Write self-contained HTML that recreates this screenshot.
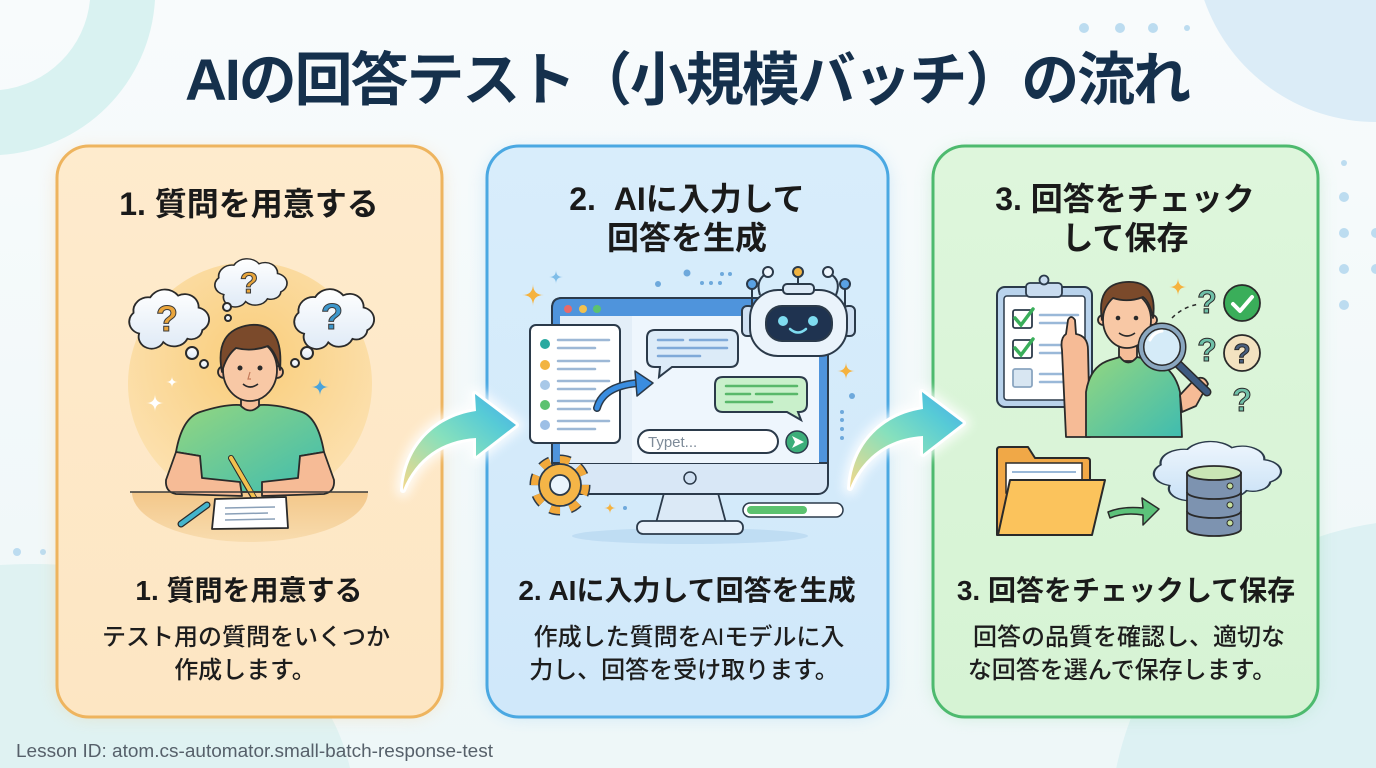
<!DOCTYPE html>
<html><head><meta charset="utf-8">
<style>
html,body{margin:0;padding:0;width:1376px;height:768px;overflow:hidden;background:#f3f8fa;}
svg{display:block;overflow:hidden;}
text{font-family:"Liberation Sans","Noto Sans CJK JP",sans-serif;}
</style></head><body>
<svg width="1376" height="768" viewBox="0 0 1376 768" xmlns="http://www.w3.org/2000/svg">
<defs>
 <linearGradient id="bg" x1="0" y1="0" x2="0" y2="1"><stop offset="0" stop-color="#f8fbfc"/><stop offset="1" stop-color="#eef7f8"/></linearGradient>
 <filter id="blur" x="-20%" y="-20%" width="140%" height="140%"><feGaussianBlur stdDeviation="9"/></filter>
 <filter id="blur2" x="-30%" y="-30%" width="160%" height="160%"><feGaussianBlur stdDeviation="5"/></filter>
 <linearGradient id="c1" x1="0" y1="0" x2="0" y2="1"><stop offset="0" stop-color="#feebcd"/><stop offset="1" stop-color="#fde6c3"/></linearGradient>
 <linearGradient id="c2" x1="0" y1="0" x2="0" y2="1"><stop offset="0" stop-color="#d8edfb"/><stop offset="1" stop-color="#d0e8fa"/></linearGradient>
 <linearGradient id="c3" x1="0" y1="0" x2="0" y2="1"><stop offset="0" stop-color="#def6dc"/><stop offset="1" stop-color="#d6f3d4"/></linearGradient>
 <linearGradient id="arrowg" x1="0" y1="1" x2="1" y2="0"><stop offset="0" stop-color="#f3d88a"/><stop offset="0.45" stop-color="#86e0bd"/><stop offset="0.75" stop-color="#57cbd6"/><stop offset="1" stop-color="#4aa9ea"/></linearGradient>
 <radialGradient id="sun" cx="50%" cy="40%" r="60%"><stop offset="0" stop-color="#f9cd7a"/><stop offset="1" stop-color="#fce1b0"/></radialGradient>
 <linearGradient id="deskg" x1="0" y1="0" x2="0" y2="1"><stop offset="0" stop-color="#f3c78a"/><stop offset="1" stop-color="#f8dcae"/></linearGradient>
 <linearGradient id="shirt" x1="0" y1="0" x2="1" y2="1"><stop offset="0" stop-color="#93d680"/><stop offset="1" stop-color="#3fbcb0"/></linearGradient>
 <linearGradient id="cloudg" x1="0" y1="0" x2="0" y2="1"><stop offset="0" stop-color="#ffffff"/><stop offset="1" stop-color="#dfeaf6"/></linearGradient>
 <linearGradient id="cloudb" x1="0" y1="0" x2="0" y2="1"><stop offset="0" stop-color="#eef6fd"/><stop offset="1" stop-color="#c9e1f6"/></linearGradient>
 <path id="cloud" d="M -30 18 a 14 14 0 0 1 -6 -24 a 16 16 0 0 1 18 -18 a 18 18 0 0 1 30 -2 a 15 15 0 0 1 22 14 a 14 14 0 0 1 4 26 a 12 12 0 0 1 -16 10 a 16 16 0 0 1 -26 4 a 14 14 0 0 1 -26 -10 Z"/>
 <path id="arrow" d="M 403 490 C 405 452 430 418 476 411 L 475 394 L 516 425 L 476 456 L 476 438 C 442 440 416 458 403 490 Z"/>
</defs>

<!-- background -->
<rect width="1376" height="768" fill="url(#bg)"/>
<path d="M 0 0 L 155 0 A 165 165 0 0 1 0 155 L 0 90 A 100 100 0 0 0 90 0 Z" fill="#d9f2f1"/>
<path d="M 1204.2 0 A 182 182 0 0 0 1376 122 L 1376 0 Z" fill="#dbecf7"/>
<path d="M 0 565 Q 160 555 270 640 Q 335 700 350 768 L 0 768 Z" fill="#dff2f2"/>
<path d="M 1116.3 768 A 310 310 0 0 1 1376 523.1 L 1376 768 Z" fill="#ddf1f3"/>
<g fill="#bcdcf0">
 <circle cx="1084" cy="28" r="5"/><circle cx="1120" cy="28" r="5"/><circle cx="1153" cy="28" r="5"/><circle cx="1187" cy="28" r="3"/>
 <circle cx="1344" cy="163" r="3"/><circle cx="1344" cy="197" r="5"/><circle cx="1344" cy="233" r="5"/><circle cx="1344" cy="269" r="5"/><circle cx="1344" cy="305" r="5"/>
 <path d="M 1376 228 A 5 5 0 0 0 1376 238 Z"/><path d="M 1376 264 A 5 5 0 0 0 1376 274 Z"/>
 <circle cx="17" cy="552" r="4"/><circle cx="43" cy="552" r="3"/>
</g>

<!-- title -->
<text x="185" y="100" font-size="58" font-weight="bold" fill="#15304c" textLength="1006" lengthAdjust="spacing">AIの回答テスト（小規模バッチ）の流れ</text>

<!-- card glows -->
<rect x="57" y="150" width="385" height="566" rx="32" fill="#f3c07a" opacity="0.35" filter="url(#blur)"/>
<rect x="487" y="150" width="401" height="566" rx="32" fill="#7ec1ee" opacity="0.35" filter="url(#blur)"/>
<rect x="933" y="150" width="385" height="566" rx="32" fill="#86d29a" opacity="0.35" filter="url(#blur)"/>
<!-- cards -->
<rect x="57" y="146" width="385" height="571" rx="32" fill="url(#c1)" stroke="#eeb45e" stroke-width="3"/>
<rect x="487" y="146" width="401" height="571" rx="32" fill="url(#c2)" stroke="#4aa8e2" stroke-width="3"/>
<rect x="933" y="146" width="385" height="571" rx="32" fill="url(#c3)" stroke="#4dba6e" stroke-width="3"/>

<!-- card titles -->
<g font-weight="bold" fill="#1a1a1a" text-anchor="middle">
 <text x="249" y="215" font-size="32">1. 質問を用意する</text>
 <text x="687" y="210" font-size="32">2.&#160;&#160;AIに入力して</text>
 <text x="687" y="249" font-size="32">回答を生成</text>
 <text x="1125" y="210" font-size="32">3. 回答をチェック</text>
 <text x="1125" y="249" font-size="32">して保存</text>
 <text x="249" y="600" font-size="28">1. 質問を用意する</text>
 <text x="687" y="600" font-size="28">2. AIに入力して回答を生成</text>
 <text x="1126" y="600" font-size="28">3. 回答をチェックして保存</text>
</g>
<g font-weight="500" fill="#1d1d1d" text-anchor="middle" font-size="24">
 <text x="246" y="645">テスト用の質問をいくつか</text>
 <text x="245" y="678">作成します。</text>
 <text x="689" y="645">作成した質問をAIモデルに入</text>
 <text x="684" y="678">力し、回答を受け取ります。</text>
 <text x="1129" y="645">回答の品質を確認し、適切な</text>
 <text x="1122" y="678">な回答を選んで保存します。</text>
</g>

<!-- footer -->
<text x="16" y="757" font-size="18" fill="#56606a" textLength="477" lengthAdjust="spacingAndGlyphs">Lesson ID: atom.cs-automator.small-batch-response-test</text>

<!-- ========== Card 1 illustration ========== -->
<circle cx="250" cy="384" r="122" fill="url(#sun)"/>
<path d="M 132 492 L 368 492 A 118 50 0 0 1 132 492 Z" fill="url(#deskg)"/>
<g stroke="#2a2a2a" stroke-width="2" fill="url(#cloudg)">
 <use href="#cloud" transform="translate(167,318) scale(0.93,0.86)"/>
 <use href="#cloud" transform="translate(249,282) scale(0.84,0.7)"/>
 <use href="#cloud" transform="translate(332,318) scale(0.93,0.87)"/>
 <circle cx="227" cy="307" r="4"/><circle cx="228" cy="318" r="3"/>
 <circle cx="192" cy="353" r="6"/><circle cx="204" cy="364" r="4"/>
 <circle cx="307" cy="353" r="6"/><circle cx="295" cy="363" r="4"/>
</g>
<g font-weight="bold" text-anchor="middle" stroke="#3a3a3a" stroke-width="1">
 <text x="167" y="331" font-size="36" fill="#eaa53c">?</text>
 <text x="249" y="293" font-size="30" fill="#e8a53a">?</text>
 <text x="332" y="329" font-size="36" fill="#3d97cc">?</text>
</g>
<path d="M155 394 Q155 403 164 403 Q155 403 155 412 Q155 403 146 403 Q155 403 155 394Z" fill="#ffffff"/>
<path d="M172 376 Q172 382 178 382 Q172 382 172 388 Q172 382 166 382 Q172 382 172 376Z" fill="#ffffff"/>
<path d="M320 378 Q320 387 329 387 Q320 387 320 396 Q320 387 311 387 Q320 387 320 378Z" fill="#4aa3da"/>
<g stroke="#2a2a2a" stroke-width="1.8" stroke-linejoin="round">
 <rect x="241" y="392" width="18" height="20" fill="#f5bd98"/>
 <path d="M 200 412 Q 225 404 240 405 Q 250 416 260 405 Q 277 404 302 412 Q 318 418 324 452 L 300 456 L 300 492 L 200 492 L 200 456 L 176 452 Q 182 418 200 412 Z" fill="url(#shirt)"/>
 <path d="M 176 452 L 200 456 L 202 478 L 240 482 L 242 496 L 176 494 Q 165 492 166 480 Z" fill="#f6bb96"/>
 <path d="M 324 452 L 300 456 L 298 478 L 262 482 L 262 496 L 324 494 Q 335 492 334 480 Z" fill="#f6bb96"/>
 <circle cx="224" cy="372" r="6" fill="#f6bf9c"/><circle cx="277" cy="372" r="6" fill="#f6bf9c"/>
 <ellipse cx="250" cy="370" rx="27" ry="31" fill="#f8c8a5"/>
 <path d="M 222 372 Q 214 330 250 325 Q 284 322 280 370 Q 276 352 268 346 Q 252 352 236 348 Q 226 356 222 372 Z" fill="#7b4a2b"/>
 <line x1="231" y1="458" x2="257" y2="503" stroke="#2a2a2a" stroke-width="6" stroke-linecap="round"/>
 <line x1="231" y1="458" x2="255" y2="499" stroke="#f2c14e" stroke-width="4" stroke-linecap="round"/>
 <path d="M 215 499 L 286 497 L 288 528 L 212 529 Z" fill="#ffffff"/>
 <line x1="181" y1="524" x2="207" y2="505" stroke="#2a2a2a" stroke-width="7" stroke-linecap="round"/>
 <line x1="181" y1="524" x2="207" y2="505" stroke="#44b4cc" stroke-width="4.5" stroke-linecap="round"/>
</g>
<line x1="130" y1="492" x2="368" y2="492" stroke="#3a3a3a" stroke-width="1.5"/>
<g stroke="#8aa0b8" stroke-width="1.5"><line x1="225" y1="508" x2="275" y2="507"/><line x1="225" y1="514" x2="268" y2="513"/><line x1="225" y1="520" x2="275" y2="519"/></g>
<circle cx="240" cy="368" r="2.5" fill="#2a2a2a"/><circle cx="260" cy="368" r="2.5" fill="#2a2a2a"/>
<path d="M 243 384 Q 250 390 258 384" stroke="#2a2a2a" stroke-width="1.6" fill="none"/>
<path d="M 250 372 L 248 379 L 251 379" stroke="#c47a5a" stroke-width="1.2" fill="none"/>

<!-- ========== Card 2 illustration ========== -->
<ellipse cx="690" cy="536" rx="118" ry="8" fill="#b6d7f0" opacity="0.7"/>
<path d="M 664 493 L 718 493 L 726 523 L 656 523 Z" fill="#dbe9f6" stroke="#2b3a4a" stroke-width="1.8"/>
<rect x="637" y="521" width="106" height="13" rx="6" fill="#e8f1fa" stroke="#2b3a4a" stroke-width="1.8"/>
<rect x="552" y="298" width="276" height="196" rx="10" fill="#d8e7f6" stroke="#2b3a4a" stroke-width="2"/>
<path d="M 552 463 L 552 308 Q 552 298 562 298 L 818 298 Q 828 298 828 308 L 828 463 Z" fill="#4f94dc" stroke="#2b3a4a" stroke-width="2"/>
<rect x="560" y="316" width="259" height="147" fill="#eef6fd"/>
<rect x="560" y="316" width="72" height="147" fill="#e3eef8"/>
<circle cx="568" cy="309" r="4" fill="#e86a6a"/><circle cx="583" cy="309" r="4" fill="#f2c14e"/><circle cx="597" cy="309" r="4" fill="#5cc26f"/>
<circle cx="690" cy="478" r="6" fill="#cfe0f2" stroke="#2b3a4a" stroke-width="1.5"/>
<rect x="530" y="325" width="90" height="118" rx="6" fill="#ffffff" stroke="#2b3a4a" stroke-width="2"/>
<circle cx="545" cy="344" r="5" fill="#2aa9a0"/><circle cx="545" cy="365" r="5" fill="#f2b441"/><circle cx="545" cy="385" r="5" fill="#a8c8e8"/><circle cx="545" cy="405" r="5" fill="#5cc26f"/><circle cx="545" cy="425" r="5" fill="#9dbfe6"/>
<g stroke="#9db8d6" stroke-width="2.5" stroke-linecap="round">
 <line x1="558" y1="340" x2="609" y2="340"/><line x1="558" y1="348" x2="595" y2="348"/>
 <line x1="558" y1="361" x2="609" y2="361"/><line x1="558" y1="369" x2="595" y2="369"/>
 <line x1="558" y1="381" x2="609" y2="381"/><line x1="558" y1="389" x2="595" y2="389"/>
 <line x1="558" y1="401" x2="600" y2="401"/><line x1="558" y1="409" x2="590" y2="409"/>
 <line x1="558" y1="421" x2="609" y2="421"/><line x1="558" y1="429" x2="595" y2="429"/>
</g>
<path d="M 597 408 Q 603 386 638 383" stroke="#2b3a4a" stroke-width="8" fill="none" stroke-linecap="round"/>
<path d="M 597 408 Q 603 386 638 383" stroke="#3a8de0" stroke-width="5" fill="none" stroke-linecap="round"/>
<path d="M 635 371 L 653 383 L 637 396 Z" fill="#3a8de0" stroke="#2b3a4a" stroke-width="1.5" stroke-linejoin="round"/>
<path d="M 655 330 L 730 330 Q 738 330 738 338 L 738 359 Q 738 367 730 367 L 672 367 L 659 377 L 660 367 L 655 367 Q 647 367 647 359 L 647 338 Q 647 330 655 330 Z" fill="#dcebf8" stroke="#2b3a4a" stroke-width="2"/>
<g stroke="#7fa9d8" stroke-width="2.5" stroke-linecap="round"><line x1="658" y1="340" x2="683" y2="340"/><line x1="690" y1="340" x2="727" y2="340"/><line x1="658" y1="348" x2="727" y2="348"/><line x1="658" y1="356" x2="700" y2="356"/></g>
<path d="M 723 377 L 799 377 Q 807 377 807 385 L 807 404 Q 807 412 799 412 L 798 412 L 801 420 L 787 412 L 723 412 Q 715 412 715 404 L 715 385 Q 715 377 723 377 Z" fill="#c9f0cb" stroke="#2b3a4a" stroke-width="2"/>
<g stroke="#58b86a" stroke-width="2.5" stroke-linecap="round"><line x1="726" y1="386" x2="797" y2="386"/><line x1="726" y1="394" x2="750" y2="394"/><line x1="756" y1="394" x2="797" y2="394"/><line x1="726" y1="402" x2="772" y2="402"/></g>
<rect x="638" y="430" width="140" height="23" rx="11.5" fill="#ffffff" stroke="#2b3a4a" stroke-width="2"/>
<text x="648" y="447" font-size="15" fill="#7d8a98">Typet...</text>
<circle cx="797" cy="442" r="11" fill="#3cae7a" stroke="#2b3a4a" stroke-width="1.5"/>
<path d="M 792 436 L 804 442 L 792 448 L 795 442 Z" fill="#ffffff"/>
<g stroke="#2b3a4a" stroke-width="2">
 <path d="M 760 295 Q 755 280 767 273" fill="none"/><circle cx="768" cy="272" r="5" fill="#eef6fd"/>
 <path d="M 836 295 Q 842 280 829 273" fill="none"/><circle cx="828" cy="272" r="5" fill="#eef6fd"/>
 <line x1="798" y1="285" x2="798" y2="277"/><circle cx="798" cy="272" r="5" fill="#f2b441"/>
 <line x1="752" y1="310" x2="752" y2="288"/><circle cx="752" cy="284" r="5" fill="#5aa2e4"/>
 <line x1="845" y1="310" x2="845" y2="288"/><circle cx="845" cy="284" r="5" fill="#5aa2e4"/>
 <rect x="742" y="306" width="12" height="30" rx="5" fill="#cfe0f2"/>
 <rect x="843" y="306" width="12" height="30" rx="5" fill="#cfe0f2"/>
 <rect x="750" y="290" width="97" height="66" rx="28" fill="#eaf3fb"/>
 <rect x="783" y="284" width="31" height="10" rx="4" fill="#dbe9f6"/>
 <rect x="766" y="306" width="66" height="35" rx="16" fill="#1f3350"/>
</g>
<circle cx="783" cy="321" r="5" fill="#7fdcf0"/><circle cx="813" cy="321" r="5" fill="#7fdcf0"/>
<path d="M 790 329 Q 798 336 806 329" stroke="#7fdcf0" stroke-width="2.5" fill="none" stroke-linecap="round"/>
<circle cx="560" cy="485" r="24" fill="none" stroke="#2b3a4a" stroke-width="13" stroke-dasharray="9.4 9.4"/>
<circle cx="560" cy="485" r="24" fill="none" stroke="#f2a93b" stroke-width="10" stroke-dasharray="9.4 9.4"/>
<circle cx="560" cy="485" r="21" fill="#f5b547" stroke="#2b3a4a" stroke-width="1.8"/>
<circle cx="560" cy="485" r="10" fill="#eaf4fc" stroke="#2b3a4a" stroke-width="1.8"/>
<rect x="743" y="503" width="100" height="14" rx="7" fill="#ffffff" stroke="#2b3a4a" stroke-width="1.5"/>
<rect x="747" y="506" width="60" height="8" rx="4" fill="#5cc26f"/>
<path d="M533 284 Q533 295 544 295 Q533 295 533 306 Q533 295 522 295 Q533 295 533 284Z" fill="#f5b23e"/>
<path d="M556 270 Q556 277 563 277 Q556 277 556 284 Q556 277 549 277 Q556 277 556 270Z" fill="#7fbde8"/>
<path d="M846 362 Q846 371 855 371 Q846 371 846 380 Q846 371 837 371 Q846 371 846 362Z" fill="#f5b23e"/>
<path d="M610 502 Q610 508 616 508 Q610 508 610 514 Q610 508 604 508 Q610 508 610 502Z" fill="#f5b23e"/>
<g fill="#6ea9dc"><circle cx="687" cy="273" r="3.5"/><circle cx="658" cy="284" r="3"/><circle cx="702" cy="283" r="2"/><circle cx="711" cy="283" r="2"/><circle cx="720" cy="283" r="2"/><circle cx="722" cy="274" r="2"/><circle cx="730" cy="274" r="2"/><circle cx="852" cy="396" r="3"/><circle cx="842" cy="412" r="2"/><circle cx="842" cy="420" r="2"/><circle cx="842" cy="429" r="2"/><circle cx="842" cy="438" r="2"/><circle cx="625" cy="508" r="2"/></g>

<!-- ========== Card 3 illustration ========== -->
<rect x="997" y="287" width="95" height="120" rx="8" fill="#b9d3ec" stroke="#2b3a4a" stroke-width="2"/>
<rect x="1004" y="296" width="81" height="104" rx="3" fill="#ffffff" stroke="#2b3a4a" stroke-width="1.5"/>
<rect x="1026" y="283" width="36" height="14" rx="4" fill="#c9dcef" stroke="#2b3a4a" stroke-width="1.8"/>
<circle cx="1044" cy="280" r="4.5" fill="#c9dcef" stroke="#2b3a4a" stroke-width="1.8"/>
<rect x="1013" y="310" width="19" height="18" rx="2" fill="#ffffff" stroke="#2b3a4a" stroke-width="1.8"/>
<rect x="1013" y="340" width="19" height="18" rx="2" fill="#ffffff" stroke="#2b3a4a" stroke-width="1.8"/>
<rect x="1013" y="369" width="19" height="18" rx="2" fill="#d8e6f2" stroke="#8aa5c0" stroke-width="1.8"/>
<path d="M 1015 318 L 1021 325 L 1033 309" stroke="#3aae5a" stroke-width="3.5" fill="none" stroke-linecap="round"/>
<path d="M 1015 348 L 1021 355 L 1033 339" stroke="#3aae5a" stroke-width="3.5" fill="none" stroke-linecap="round"/>
<g stroke="#9ab8d8" stroke-width="2.5" stroke-linecap="round"><line x1="1040" y1="315" x2="1078" y2="315"/><line x1="1040" y1="323" x2="1066" y2="323"/><line x1="1040" y1="345" x2="1078" y2="345"/><line x1="1040" y1="353" x2="1066" y2="353"/><line x1="1040" y1="374" x2="1078" y2="374"/><line x1="1040" y1="382" x2="1066" y2="382"/></g>
<g stroke="#2a2a2a" stroke-width="1.8" stroke-linejoin="round">
 <path d="M 1066 437 L 1062 350 Q 1060 338 1066 334 L 1068 320 Q 1071 314 1075 320 L 1076 334 Q 1088 336 1088 350 L 1090 437 Z" fill="#f6bb96"/>
 <rect x="1119" y="343" width="18" height="18" fill="#f5bd98"/>
 <path d="M 1086 437 L 1086 392 Q 1090 366 1110 360 L 1120 357 Q 1128 368 1137 357 L 1150 360 Q 1174 366 1180 392 L 1182 437 Z" fill="url(#shirt)"/>
 <circle cx="1103" cy="320" r="5" fill="#f6bf9c"/><circle cx="1152" cy="320" r="5" fill="#f6bf9c"/>
 <ellipse cx="1127" cy="320" rx="24" ry="28" fill="#f8c8a5"/>
 <path d="M 1102 320 Q 1096 284 1126 282 Q 1158 280 1153 318 Q 1150 302 1143 297 Q 1128 303 1113 298 Q 1104 306 1102 320 Z" fill="#7b4a2b"/>
 <path d="M 1180 395 L 1194 380 Q 1204 374 1208 384 L 1196 406 L 1182 412 Z" fill="#f6bb96"/>
</g>
<circle cx="1118" cy="318" r="2.3" fill="#2a2a2a"/><circle cx="1136" cy="318" r="2.3" fill="#2a2a2a"/>
<path d="M 1119 333 Q 1127 339 1135 333" stroke="#2a2a2a" stroke-width="1.6" fill="none"/>
<line x1="1176" y1="362" x2="1207" y2="392" stroke="#2a2a2a" stroke-width="9" stroke-linecap="round"/>
<line x1="1176" y1="362" x2="1207" y2="392" stroke="#3d5a80" stroke-width="6" stroke-linecap="round"/>
<circle cx="1162" cy="347" r="21" fill="#d5ebf8" stroke="#2a2a2a" stroke-width="7"/>
<circle cx="1162" cy="347" r="21" fill="none" stroke="#8aa7c0" stroke-width="4"/>
<path d="M 1150 340 Q 1154 332 1162 331" stroke="#ffffff" stroke-width="3" fill="none" stroke-linecap="round"/>
<path d="M 1172 318 Q 1184 306 1200 304" stroke="#2a2a2a" stroke-width="1.5" stroke-dasharray="4 4" fill="none"/>
<path d="M1178 278 Q1178 287 1187 287 Q1178 287 1178 296 Q1178 287 1169 287 Q1178 287 1178 278Z" fill="#f5b23e"/>
<circle cx="1242" cy="303" r="18" fill="#3aae5a" stroke="#2a2a2a" stroke-width="1.8"/>
<path d="M 1233 304 L 1240 311 L 1252 297" stroke="#ffffff" stroke-width="4" fill="none" stroke-linecap="round" stroke-linejoin="round"/>
<circle cx="1242" cy="353" r="18" fill="#f3e2c0" stroke="#2a2a2a" stroke-width="1.8"/>
<g font-weight="bold" text-anchor="middle" stroke="#2a2a2a" stroke-width="1">
 <text x="1242" y="363" font-size="28" fill="#4a6080">?</text>
 <text x="1207" y="313" font-size="32" fill="#6fc0a8">?</text>
 <text x="1207" y="361" font-size="32" fill="#6fc0a8">?</text>
 <text x="1242" y="411" font-size="32" fill="#6fc0a8">?</text>
</g>
<path d="M 997 535 L 997 450 Q 997 447 1000 447 L 1028 447 L 1035 458 L 1087 458 Q 1090 458 1090 461 L 1090 535 Z" fill="#f0a847" stroke="#2a2a2a" stroke-width="2" stroke-linejoin="round"/>
<rect x="1006" y="463" width="76" height="30" fill="#ffffff" stroke="#2a2a2a" stroke-width="1.5"/>
<g stroke="#9ab8d8" stroke-width="2"><line x1="1012" y1="472" x2="1076" y2="472"/><line x1="1012" y1="480" x2="1066" y2="480"/></g>
<path d="M 998 535 L 1010 480 L 1105 480 L 1092 535 Z" fill="#fbc35c" stroke="#2a2a2a" stroke-width="2" stroke-linejoin="round"/>
<path d="M 1108 512 Q 1122 506 1143 508 L 1142 498 L 1159 509 L 1143 525 L 1143 515 Q 1124 512 1110 518 Z" fill="#5cc27a" stroke="#2a2a2a" stroke-width="1.5" stroke-linejoin="round"/>
<use href="#cloud" transform="translate(1214,470) scale(1.48,0.86)" fill="url(#cloudb)" stroke="#2b3a4a" stroke-width="1.5"/>
<g stroke="#2a2a2a" stroke-width="1.8">
 <path d="M 1187 473 L 1187 529 A 27 7 0 0 0 1241 529 L 1241 473 Z" fill="#7d93b0"/>
 <path d="M 1187 492 A 27 7 0 0 0 1241 492" fill="none"/>
 <path d="M 1187 511 A 27 7 0 0 0 1241 511" fill="none"/>
 <ellipse cx="1214" cy="473" rx="27" ry="7" fill="#c9e5b5"/>
</g>
<g fill="#c7e0a0" stroke="#2a2a2a" stroke-width="1"><circle cx="1230" cy="486" r="3"/><circle cx="1230" cy="505" r="3"/><circle cx="1230" cy="523" r="3"/></g>

<!-- connector arrows -->
<g>
 <use href="#arrow" fill="#ffffff" opacity="0.8" stroke="#ffffff" stroke-width="14" stroke-linejoin="round" filter="url(#blur2)"/>
 <use href="#arrow" fill="url(#arrowg)" stroke="#ffffff" stroke-width="6" stroke-linejoin="round" paint-order="stroke"/>
</g>
<g transform="translate(447,-2)">
 <use href="#arrow" fill="#ffffff" opacity="0.8" stroke="#ffffff" stroke-width="14" stroke-linejoin="round" filter="url(#blur2)"/>
 <use href="#arrow" fill="url(#arrowg)" stroke="#ffffff" stroke-width="6" stroke-linejoin="round" paint-order="stroke"/>
</g>
</svg>
</body></html>
